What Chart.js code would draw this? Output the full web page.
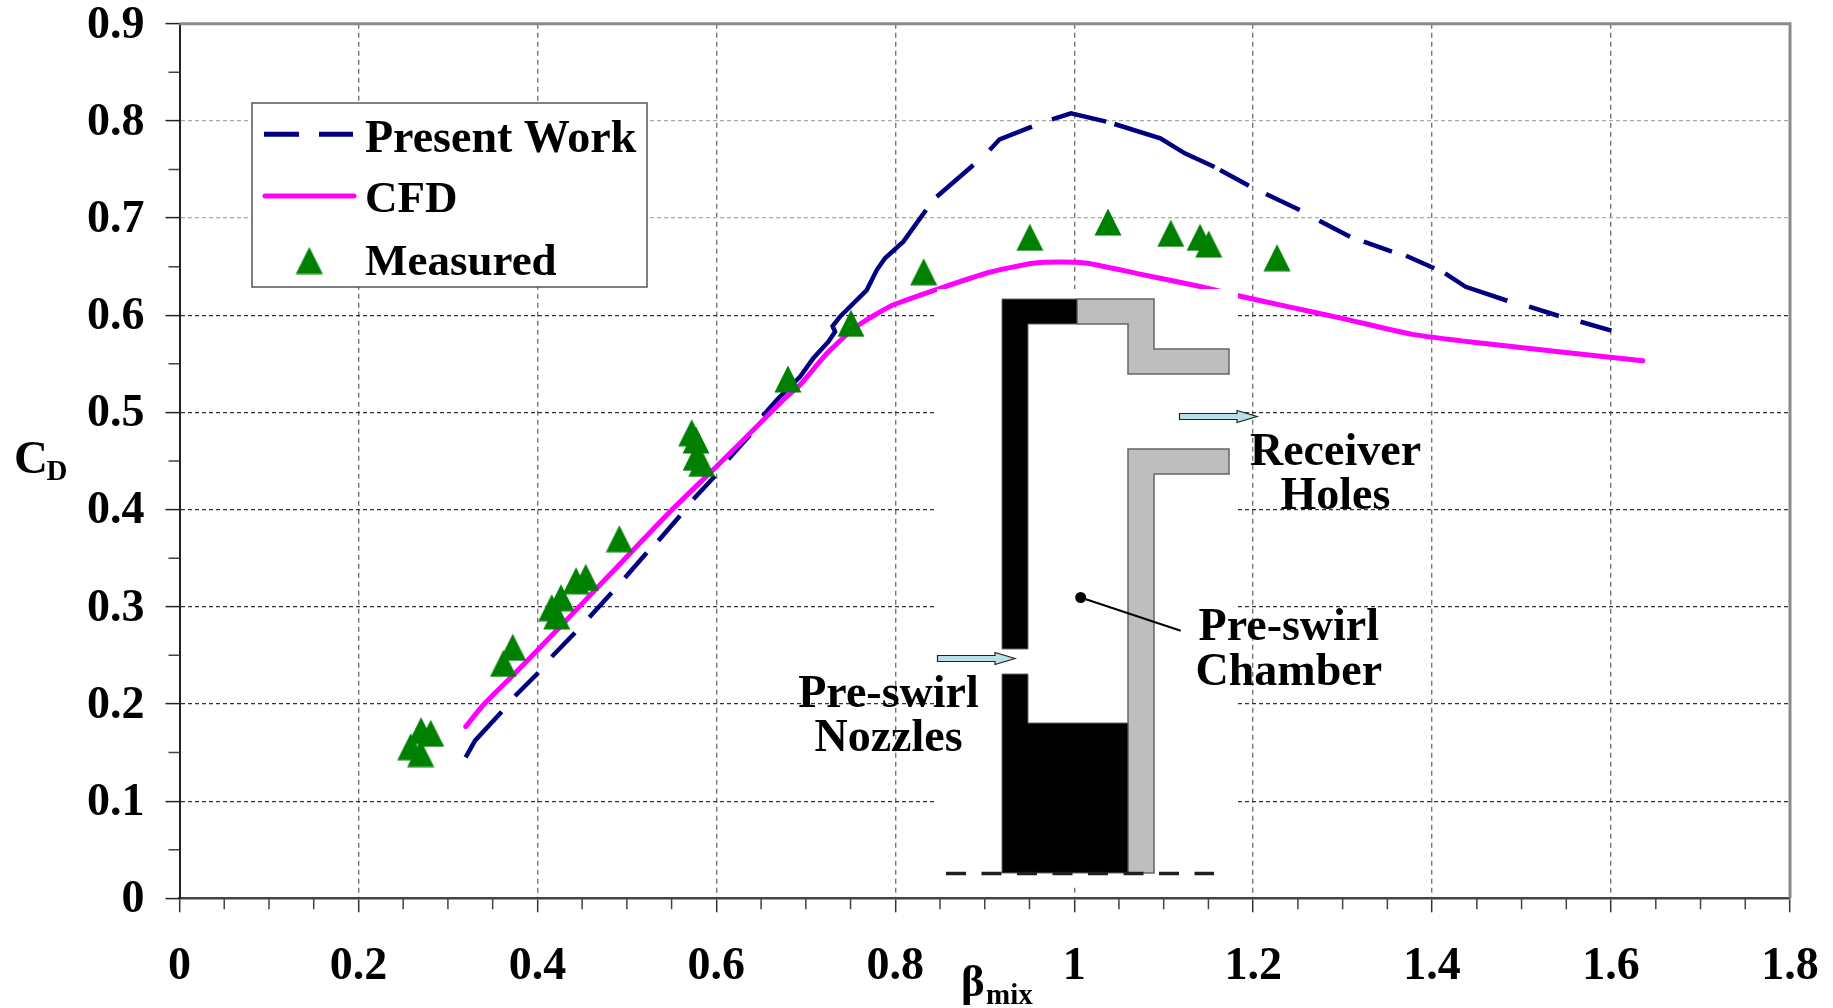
<!DOCTYPE html>
<html>
<head>
<meta charset="utf-8">
<title>Discharge coefficient</title>
<style>html,body{margin:0;padding:0;background:#fff}canvas{display:block}</style>
<script src="https://cdn.jsdelivr.net/npm/chart.js@4"></script>
</head>
<body>
<canvas id="c" width="1833" height="1008"></canvas>
<script>
const presentX = [0.3198,0.3303,0.3601,0.375,0.401,0.416,0.442,0.4581,0.483,0.4979,0.5222,0.5352,0.5594,0.5743,0.5985,0.6134,0.6377,0.6518,0.6675,0.6935,0.7084,0.7252,0.7327,0.73,0.7382,0.7681,0.7793,0.7885,0.809,0.8344,0.8463,0.8873,0.9055,0.9166,0.9528,0.9751,0.9964,1.0358,1.0449,1.0963,1.1236,1.1569,1.163,1.1952,1.2144,1.252,1.2739,1.3083,1.3236,1.3551,1.3709,1.4024,1.4145,1.4375,1.4841,1.5084,1.5417,1.5659,1.6004];
const presentY = [0.1451,0.1622,0.192,0.2082,0.2321,0.2486,0.2733,0.2892,0.3145,0.3299,0.3556,0.368,0.3937,0.4106,0.4346,0.4517,0.4767,0.4963,0.5128,0.5367,0.5557,0.5728,0.583,0.5889,0.5985,0.6259,0.6465,0.6586,0.6757,0.7083,0.722,0.7546,0.77,0.781,0.794,0.8016,0.8078,0.7992,0.7968,0.782,0.7666,0.7525,0.7494,0.7333,0.7247,0.7083,0.6973,0.6808,0.6757,0.6654,0.6612,0.6483,0.6431,0.6293,0.6149,0.6088,0.5992,0.5933,0.5841];
const presentGapStarts = [0.3601,0.401,0.442,0.483,0.5222,0.5594,0.5985,0.6377,0.8344,0.8873,0.9528,1.0358,1.1569,1.1952,1.252,1.3083,1.3551,1.4024,1.4841,1.5417];
const cfdX = [0.3198,0.3396,0.3731,0.4003,0.4327,0.4663,0.5072,0.5482,0.6,0.6377,0.6786,0.6935,0.7238,0.7541,0.7935,0.845,0.9055,0.954,0.9843,1.0145,1.0693,1.142,1.1833,1.2388,1.2994,1.378,1.4565,1.5415,1.6355];
const cfdY = [0.1766,0.1989,0.2298,0.2555,0.2864,0.319,0.3584,0.3978,0.4441,0.4785,0.5162,0.5282,0.5608,0.5865,0.6088,0.626,0.6442,0.6534,0.6547,0.6534,0.6431,0.6293,0.6201,0.6088,0.5968,0.5803,0.5711,0.5625,0.5532];
const measuredX = [0.2808,0.27,0.2584,0.2695,0.3724,0.362,0.416,0.4264,0.4216,0.4432,0.454,0.4916,0.5725,0.5773,0.5773,0.5836,0.68,0.7505,0.8317,0.9504,1.0377,1.1079,1.1406,1.1503,1.2267];
const measuredY = [0.1698,0.1725,0.156,0.149,0.2583,0.2418,0.299,0.3093,0.2905,0.3268,0.3303,0.37,0.4791,0.4716,0.4538,0.4476,0.5344,0.5917,0.6448,0.6802,0.6959,0.6843,0.6802,0.6733,0.6592];
const seriesNames = ['Present Work','CFD','Measured'];
const xTickValues = [0,0.2,0.4,0.6,0.8,1,1.2,1.4,1.6,1.8];
const yTickValues = [0,0.1,0.2,0.3,0.4,0.5,0.6,0.7,0.8,0.9];

const SERIF = '"Liberation Serif","Times New Roman",serif';
const NAVY = '#000080', MAGENTA = '#ff00ff', GREEN = '#008000';
const zip = (xs, ys) => xs.map((x, i) => ({x, y: ys[i]}));

function triangleImage() {
  const s = 28, c = document.createElement('canvas');
  c.width = s; c.height = s;
  const g = c.getContext('2d');
  g.fillStyle = GREEN;
  g.beginPath(); g.moveTo(s / 2, 0.5); g.lineTo(s - 0.5, s - 0.5); g.lineTo(0.5, s - 0.5); g.closePath(); g.fill();
  return c;
}
const tri = triangleImage();

function poly(ctx, pts, fill, stroke, lw) {
  ctx.beginPath();
  pts.forEach((p, i) => i ? ctx.lineTo(p[0], p[1]) : ctx.moveTo(p[0], p[1]));
  ctx.closePath();
  ctx.fillStyle = fill; ctx.fill();
  if (stroke) { ctx.strokeStyle = stroke; ctx.lineWidth = lw; ctx.stroke(); }
}
function label(ctx, text, x, y, size, align) {
  ctx.font = 'bold ' + size + 'px ' + SERIF;
  ctx.fillStyle = '#000';
  ctx.textAlign = align || 'left';
  ctx.textBaseline = 'alphabetic';
  ctx.fillText(text, x, y);
}
function arrow(ctx, x0, x1, xh, y) {
  poly(ctx, [[x0, y - 3], [xh, y - 3], [xh, y - 6], [x1, y], [xh, y + 6], [xh, y + 3], [x0, y + 3]], '#b9e0e6', '#222', 1.2);
}

const minorTicks = {
  id: 'minorTicks',
  afterDraw(chart) {
    const {ctx, scales: {x, y}} = chart;
    ctx.save();
    ctx.strokeStyle = '#444'; ctx.lineWidth = 1.5; ctx.setLineDash([]);
    ctx.beginPath();
    for (let i = 0; i < xTickValues.length - 1; i++) {
      for (const f of [0.25, 0.5, 0.75]) {
        const px = x.getPixelForValue(xTickValues[i] + f * (xTickValues[i + 1] - xTickValues[i]));
        ctx.moveTo(px, y.bottom); ctx.lineTo(px, y.bottom + 11);
      }
    }
    for (let i = 0; i < yTickValues.length - 1; i++) {
      const py = y.getPixelForValue((yTickValues[i] + yTickValues[i + 1]) / 2);
      ctx.moveTo(x.left, py); ctx.lineTo(x.left - 11, py);
    }
    ctx.stroke();
    ctx.restore();
  }
};

const frame = {
  id: 'frame',
  beforeDatasetsDraw(chart) {
    const {ctx, chartArea: a} = chart;
    ctx.save();
    ctx.strokeStyle = '#8a8a8a'; ctx.lineWidth = 3; ctx.setLineDash([]);
    ctx.beginPath(); ctx.moveTo(a.left, a.top); ctx.lineTo(a.right, a.top); ctx.lineTo(a.right, a.bottom); ctx.stroke();
    ctx.restore();
  }
};

const schematic = {
  id: 'schematic',
  afterDatasetsDraw(chart) {
    const {ctx} = chart;
    ctx.save();
    ctx.setLineDash([]);
    ctx.fillStyle = '#fff';
    ctx.fillRect(937, 289, 301, 598);
    const edge = '#666';
    poly(ctx, [[1077,299],[1154,299],[1154,349],[1229,349],[1229,374],[1128,374],[1128,324],[1077,324]], '#bebebe', edge, 1.5);
    poly(ctx, [[1128,449],[1229,449],[1229,474],[1154,474],[1154,873],[1128,873]], '#bebebe', edge, 1.5);
    poly(ctx, [[1002,299],[1077,299],[1077,324],[1028,324],[1028,649],[1002,649]], '#000', edge, 1);
    poly(ctx, [[1002,674],[1028,674],[1028,723],[1128,723],[1128,873],[1002,873]], '#000', edge, 1);
    ctx.strokeStyle = '#231f20'; ctx.lineWidth = 3.5; ctx.setLineDash([20, 15.5]);
    ctx.beginPath(); ctx.moveTo(946, 873.5); ctx.lineTo(1214, 873.5); ctx.stroke();
    ctx.setLineDash([]);
    arrow(ctx, 1179.5, 1257, 1237, 416.5);
    arrow(ctx, 937.5, 1015, 995, 658.5);
    ctx.fillStyle = '#000';
    ctx.beginPath(); ctx.arc(1080.7, 597.5, 5.5, 0, Math.PI * 2); ctx.fill();
    ctx.strokeStyle = '#000'; ctx.lineWidth = 2;
    ctx.beginPath(); ctx.moveTo(1080.7, 597.5); ctx.lineTo(1180.7, 630.7); ctx.stroke();

    label(ctx, 'Receiver', 1335.5, 464.7, 46, 'center');
    label(ctx, 'Holes', 1335.5, 509.3, 46, 'center');
    label(ctx, 'Pre-swirl', 1288.8, 639.8, 46, 'center');
    label(ctx, 'Chamber', 1288.8, 685.3, 46, 'center');
    label(ctx, 'Pre-swirl', 888.5, 706.7, 46, 'center');
    label(ctx, 'Nozzles', 888.5, 750.7, 46, 'center');

    // axis titles
    label(ctx, 'C', 14, 472.7, 47);
    label(ctx, 'D', 46.5, 480, 29);
    label(ctx, 'β', 961, 996, 45);
    label(ctx, 'mix', 986, 1004, 29);

    // legend
    ctx.fillStyle = '#fff';
    ctx.fillRect(252, 103, 395, 184);
    ctx.strokeStyle = '#555'; ctx.lineWidth = 1.5;
    ctx.strokeRect(252, 103, 395, 184);
    ctx.strokeStyle = NAVY; ctx.lineWidth = 5;
    ctx.beginPath(); ctx.moveTo(264, 134.3); ctx.lineTo(299, 134.3); ctx.moveTo(319, 134.3); ctx.lineTo(353, 134.3); ctx.stroke();
    ctx.strokeStyle = MAGENTA; ctx.lineCap = 'round';
    ctx.beginPath(); ctx.moveTo(265, 196); ctx.lineTo(354, 196); ctx.stroke();
    ctx.lineCap = 'butt';
    ctx.drawImage(tri, 309.3 - 14, 246.5);
    label(ctx, seriesNames[0], 365, 151.7, 46);
    label(ctx, seriesNames[1], 365, 212.3, 45);
    label(ctx, seriesNames[2], 365, 275, 45);
    ctx.restore();
  }
};

const tickFont = {family: SERIF, weight: 'bold', size: 46, lineHeight: 1};
const noOverhang = s => { s.paddingTop = 0; s.paddingBottom = 0; s.paddingLeft = 0; s.paddingRight = 0; };

new Chart(document.getElementById('c'), {
  type: 'scatter',
  data: {
    datasets: [
      {label: seriesNames[2], data: zip(measuredX, measuredY), order: 0, showLine: false,
       pointStyle: tri, pointRadius: 14, backgroundColor: GREEN, borderColor: GREEN},
      {label: seriesNames[1], data: zip(cfdX, cfdY), order: 1, showLine: true, pointRadius: 0,
       borderColor: MAGENTA, backgroundColor: MAGENTA, borderWidth: 5, borderCapStyle: 'round', borderJoinStyle: 'round', tension: 0.2},
      {label: seriesNames[0], data: zip(presentX, presentY), order: 2, showLine: true, pointRadius: 0,
       borderColor: NAVY, backgroundColor: NAVY, borderWidth: 4.5, tension: 0,
       segment: {borderColor: c => presentGapStarts.includes(c.p0.parsed.x) ? 'rgba(0,0,0,0)' : NAVY}}
    ]
  },
  options: {
    responsive: false,
    animation: false,
    layout: {padding: {top: 23.7, right: 43, left: 0, bottom: 0}},
    plugins: {legend: {display: false}, title: {display: false}, tooltip: {enabled: false}},
    scales: {
      x: {
        type: 'linear', min: 0, max: 1.8,
        afterBuildTicks: s => { s.ticks = xTickValues.map(value => ({value})); },
        afterFit: s => { s.height = 109.7; noOverhang(s); },
        ticks: {color: '#000', font: tickFont, padding: 32, maxRotation: 0, autoSkip: false,
                callback: v => String(+v.toFixed(1))},
        grid: {color: c => (c.tick && (c.tick.value === 0 || c.tick.value === 1.8)) ? 'rgba(0,0,0,0)' : '#777',
               lineWidth: 1.4, tickLength: 14, tickColor: '#333', tickWidth: 1.5},
        border: {color: '#444', width: 2.5, dash: [5, 4]}
      },
      y: {
        type: 'linear', min: 0, max: 0.9,
        afterBuildTicks: s => { s.ticks = yTickValues.map(value => ({value})); },
        afterFit: s => { s.width = 179.5; noOverhang(s); },
        ticks: {color: '#000', font: tickFont, padding: 21, labelOffset: 2, autoSkip: false,
                callback: v => String(+v.toFixed(1))},
        grid: {color: c => {
                 const v = c.tick ? c.tick.value : 0;
                 if (v === 0 || v === 0.9) return 'rgba(0,0,0,0)';
                 return v >= 0.7 ? '#aaa' : '#333';
               },
               lineWidth: 1.2, tickLength: 14, tickColor: '#222', tickWidth: 1.5},
        border: {color: '#222', width: 2, dash: [4, 3]}
      }
    }
  },
  plugins: [frame, schematic, minorTicks]
});
</script>
</body>
</html>
